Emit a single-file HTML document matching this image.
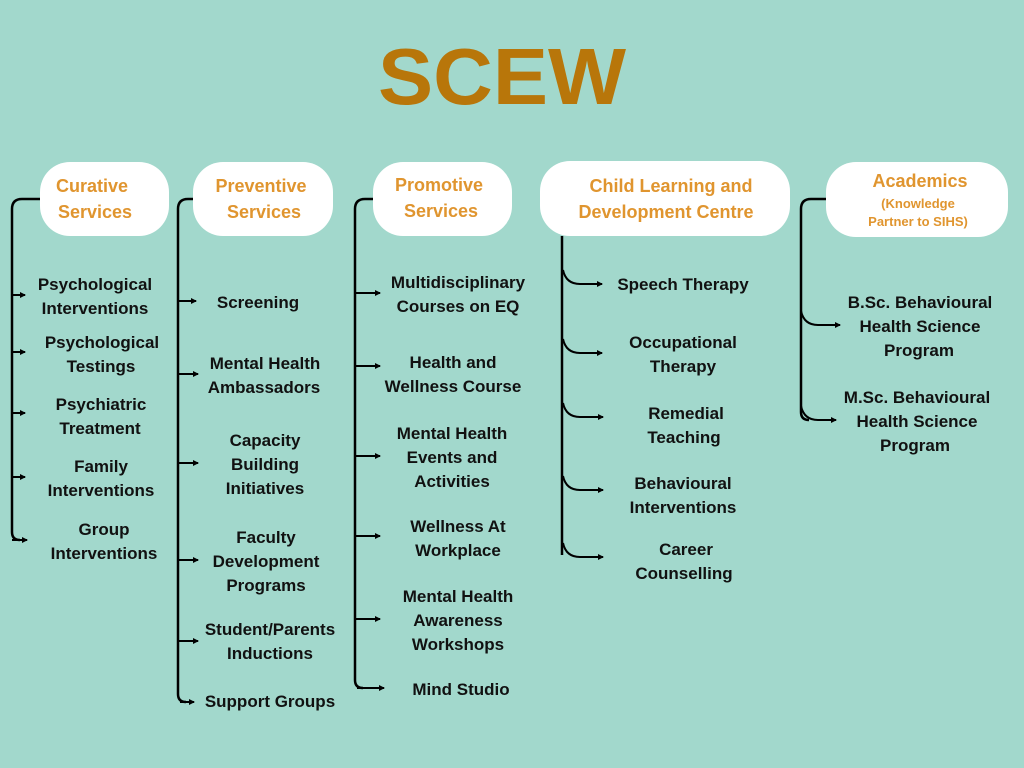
<!DOCTYPE html>
<html><head><meta charset="utf-8"><style>
html,body{margin:0;padding:0;background:#a2d8cc;}
svg{display:block}
text{font-family:"Liberation Sans",sans-serif;font-weight:bold;}
.t{font-size:17px;fill:#111;text-anchor:middle}
.h{font-size:18px;fill:#e0952f;text-anchor:middle}
</style></head><body>
<svg width="1024" height="768" viewBox="0 0 1024 768" xmlns="http://www.w3.org/2000/svg">
<defs><marker id="a" markerWidth="6" markerHeight="6" refX="5" refY="3" orient="auto" markerUnits="userSpaceOnUse"><path d="M0,0 L6,3 L0,6z" fill="#000"/></marker></defs>
<rect width="1024" height="768" fill="#a2d8cc"/>
<text x="502" y="104" text-anchor="middle" textLength="248" lengthAdjust="spacingAndGlyphs" style="font-size:80px;fill:#b8760a">SCEW</text>
<g fill="#fff">
<rect x="40" y="162" width="129" height="74" rx="30"/>
<rect x="193" y="162" width="140" height="74" rx="30"/>
<rect x="373" y="162" width="139" height="74" rx="30"/>
<rect x="540" y="161" width="250" height="75" rx="30"/>
<rect x="826" y="162" width="182" height="75" rx="30"/>
</g>
<text class="h" x="92" y="192">Curative</text><text class="h" x="95" y="218">Services</text>
<text class="h" x="261" y="192">Preventive</text><text class="h" x="264" y="218">Services</text>
<text class="h" x="439" y="191">Promotive</text><text class="h" x="441" y="217">Services</text>
<text class="h" x="671" y="192">Child Learning and</text><text class="h" x="666" y="218">Development Centre</text>
<text class="h" x="920" y="187">Academics</text>
<text class="h" x="918" y="208" style="font-size:13px">(Knowledge</text><text class="h" x="918" y="226" style="font-size:13px">Partner to SIHS)</text>
<g stroke="#000" stroke-width="2.5" fill="none">
<path d="M40,199 H22 Q12,199 12,209 V532 Q12,540 20,540"/>
<path d="M193,199 H188 Q178,199 178,209 V694 Q178,702 186,702"/>
<path d="M373,199 H365 Q355,199 355,209 V680 Q355,688 363,688"/>
<path d="M562,236 V555"/>
<path d="M826,199 H811 Q801,199 801,209 V412 Q801,420 809,420"/>
</g>
<g stroke="#000" stroke-width="2" fill="none" marker-end="url(#a)">
<path d="M12,295 H25"/><path d="M12,352 H25"/><path d="M12,413 H25"/><path d="M12,477 H25"/><path d="M12,540 H27"/>
<path d="M178,301 H196"/><path d="M178,374 H198"/><path d="M178,463 H198"/><path d="M178,560 H198"/><path d="M178,641 H198"/><path d="M180,702 H194"/>
<path d="M355,293 H380"/><path d="M355,366 H380"/><path d="M355,456 H380"/><path d="M355,536 H380"/><path d="M355,619 H380"/><path d="M357,688 H384"/>
<path d="M563,270 Q566,284 580,284 H602"/><path d="M563,339 Q566,353 580,353 H602"/><path d="M563,403 Q566,417 580,417 H603"/><path d="M563,476 Q566,490 580,490 H603"/><path d="M563,543 Q566,557 580,557 H603"/>
<path d="M801,311 Q804,325 818,325 H840"/><path d="M801,406 Q804,420 818,420 H836"/>
</g>
<text class="t" x="95" y="290">Psychological</text><text class="t" x="95" y="314">Interventions</text>
<text class="t" x="102" y="348">Psychological</text><text class="t" x="101" y="372">Testings</text>
<text class="t" x="101" y="410">Psychiatric</text><text class="t" x="100" y="434">Treatment</text>
<text class="t" x="101" y="472">Family</text><text class="t" x="101" y="496">Interventions</text>
<text class="t" x="104" y="535">Group</text><text class="t" x="104" y="559">Interventions</text>
<text class="t" x="258" y="308">Screening</text>
<text class="t" x="265" y="369">Mental Health</text><text class="t" x="264" y="393">Ambassadors</text>
<text class="t" x="265" y="446">Capacity</text><text class="t" x="265" y="470">Building</text><text class="t" x="265" y="494">Initiatives</text>
<text class="t" x="266" y="543">Faculty</text><text class="t" x="266" y="567">Development</text><text class="t" x="266" y="591">Programs</text>
<text class="t" x="270" y="635">Student/Parents</text><text class="t" x="270" y="659">Inductions</text>
<text class="t" x="270" y="707">Support Groups</text>
<text class="t" x="458" y="288">Multidisciplinary</text><text class="t" x="458" y="312">Courses on EQ</text>
<text class="t" x="453" y="368">Health and</text><text class="t" x="453" y="392">Wellness Course</text>
<text class="t" x="452" y="439">Mental Health</text><text class="t" x="452" y="463">Events and</text><text class="t" x="452" y="487">Activities</text>
<text class="t" x="458" y="532">Wellness At</text><text class="t" x="458" y="556">Workplace</text>
<text class="t" x="458" y="602">Mental Health</text><text class="t" x="458" y="626">Awareness</text><text class="t" x="458" y="650">Workshops</text>
<text class="t" x="461" y="695">Mind Studio</text>
<text class="t" x="683" y="290">Speech Therapy</text>
<text class="t" x="683" y="348">Occupational</text><text class="t" x="683" y="372">Therapy</text>
<text class="t" x="686" y="419">Remedial</text><text class="t" x="684" y="443">Teaching</text>
<text class="t" x="683" y="489">Behavioural</text><text class="t" x="683" y="513">Interventions</text>
<text class="t" x="686" y="555">Career</text><text class="t" x="684" y="579">Counselling</text>
<text class="t" x="920" y="308">B.Sc. Behavioural</text><text class="t" x="920" y="332">Health Science</text><text class="t" x="919" y="356">Program</text>
<text class="t" x="917" y="403">M.Sc. Behavioural</text><text class="t" x="917" y="427">Health Science</text><text class="t" x="915" y="451">Program</text>
</svg>
</body></html>
